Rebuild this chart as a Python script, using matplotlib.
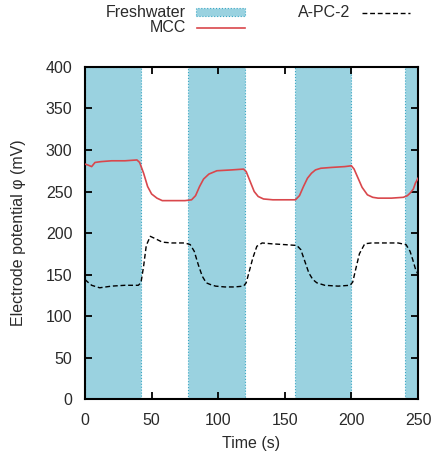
import matplotlib.pyplot as plt
from matplotlib.patches import Rectangle
from matplotlib.lines import Line2D

# Freshwater periods (s)
fresh_start = [0, 77, 158, 240]
fresh_end = [42, 120, 200, 250]

# MCC electrode potential (mV)
mcc_t = [0, 2, 5, 7.5, 12, 20, 30, 39, 41, 44, 47, 50, 54, 58, 65, 75, 80, 83,
         86, 89, 93, 99, 110, 119, 121, 124, 127, 130, 134, 141, 150, 158, 161,
         164, 167, 170, 173, 177, 185, 195, 200, 202, 205, 208, 212, 216, 220,
         230, 239, 242, 244, 246.5, 248, 250]
mcc_v = [283, 282, 280, 285, 286, 287, 287, 288, 285, 272, 256, 247, 242, 239,
         239, 239, 240, 245, 256, 265, 271, 275, 276, 277, 274, 262, 250, 244,
         241, 240, 240, 240, 245, 256, 266, 272, 276, 278, 279, 280, 281, 277,
         266, 255, 246, 243, 242, 242, 243, 245, 248, 253, 260, 266]

# A-PC-2 electrode potential (mV)
apc_t = [0, 2, 5, 11, 20, 30, 40, 42, 44, 46, 49, 53, 58, 65, 75, 79, 82, 85,
         88, 91, 94, 98, 105, 112, 119, 121, 123, 126, 129, 133, 140, 150, 159,
         162, 165, 168, 171, 174, 180, 190, 199, 201, 203, 206, 210, 215, 225,
         235, 241, 244, 246, 248, 250]
apc_v = [144, 141, 137, 134, 136, 137, 137, 140, 160, 185, 196, 193, 189, 188,
         188, 186, 178, 162, 148, 140, 138, 136, 135, 135, 136, 140, 152, 170,
         184, 188, 187, 186, 185, 180, 166, 152, 144, 140, 137, 136, 137, 141,
         155, 175, 187, 188, 188, 188, 186, 178, 168, 157, 150]

x_ticks = [0, 50, 100, 150, 200, 250]
y_ticks = [0, 50, 100, 150, 200, 250, 300, 350, 400]

fresh_color = '#9ad2e0'
fresh_edge = '#3aa7c4'
mcc_color = '#d9474c'
text_color = '#2a2a2a'

plt.rcParams['font.family'] = ['Liberation Sans', 'DejaVu Sans']
plt.rcParams['font.size'] = 11

fig = plt.figure(figsize=(4.35, 4.57), dpi=100)
ax = fig.add_axes([0.1954, 0.1269, 0.7656, 0.7265])

for s, e in zip(fresh_start, fresh_end):
    ax.axvspan(s, e, facecolor=fresh_color, edgecolor=fresh_edge,
               linestyle=':', linewidth=0.8, zorder=1)

ax.plot(mcc_t, mcc_v, color=mcc_color, linewidth=1.2, zorder=3)
ax.plot(apc_t, apc_v, color='black', linewidth=1.0, linestyle=(0, (3.5, 2)), zorder=3)

ax.set_xlim(0, 250)
ax.set_ylim(0, 400)
ax.set_xticks(x_ticks)
ax.set_yticks(y_ticks)
ax.tick_params(direction='in', length=5, width=1.3, top=True, right=True,
               labelsize=11.5, labelcolor=text_color)
ax.tick_params(axis='y', pad=9)
ax.tick_params(axis='x', pad=10)
for sp in ax.spines.values():
    sp.set_linewidth(1.5)

ax.set_xlabel('Time (s)', color=text_color, fontsize=11.5, labelpad=6)
ax.set_ylabel('Electrode potential φ (mV)', color=text_color, fontsize=11.5, labelpad=14)

# gnuplot-style key above the plot
W, H = 435, 457
def fx(px):
    return px / W
def fy(py):
    return 1 - py / H

fig.text(fx(186), fy(12.5), 'Freshwater', ha='right', va='center',
         color=text_color, fontsize=11.5)
fig.patches.append(Rectangle((fx(196), fy(16)), fx(245) - fx(196), fy(8) - fy(16),
                             transform=fig.transFigure, facecolor=fresh_color,
                             edgecolor=fresh_edge, linestyle=':', linewidth=0.8))
fig.text(fx(186), fy(28), 'MCC', ha='right', va='center',
         color=text_color, fontsize=11.5)
fig.lines.append(Line2D([fx(197), fx(245)], [fy(28), fy(28)],
                        transform=fig.transFigure, color=mcc_color, linewidth=1.2))
fig.text(fx(350), fy(12.5), 'A-PC-2', ha='right', va='center',
         color=text_color, fontsize=11.5)
fig.lines.append(Line2D([fx(362), fx(410)], [fy(12.5), fy(12.5)],
                        transform=fig.transFigure, color='black', linewidth=1.0,
                        linestyle=(0, (3.5, 2))))

fig.savefig('out.png', dpi=100)
